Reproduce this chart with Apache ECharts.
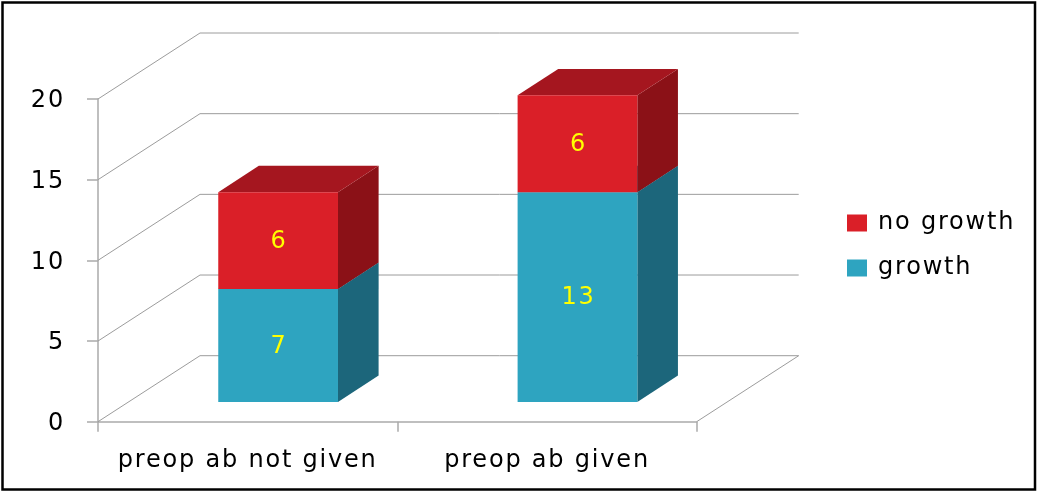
<!DOCTYPE html>
<html><head><meta charset="utf-8">
<style>html,body{margin:0;padding:0;background:#fff}#c{width:1038px;height:492px}</style>
<script src="https://cdn.jsdelivr.net/npm/echarts@6/dist/echarts.min.js"></script>
</head><body><div id="c"></div>
<script>
var categories = ['preop ab not given', 'preop ab given'];
var growth = [7, 13];
var noGrowth = [6, 6];
var yTicks = [0, 5, 10, 15, 20];

var FONT = '"DejaVu Sans", Verdana, sans-serif';
var DX = 102, DY = 66, NEAR = 0.3, FAR = 0.7;
var RED = {front:'#DA1F28', top:'#A5161F', side:'#8B1117'};
var BLUE = {front:'#2EA4C0', top:'#237F96', side:'#1C667B'};
var chart = echarts.init(document.getElementById('c'), null, {renderer:'canvas'});

function box(colors) {
  return function (params, api) {
    var cat = api.value(0), lo = api.value(1), hi = api.value(2);
    var band = api.size([1, 0])[0], w = band * 0.4;
    var cx = api.coord([cat, 0])[0];
    var nx = 101.5 * NEAR, ny = -DY * NEAR, fx = 101.5 * (FAR - NEAR), fy = -DY * (FAR - NEAR);
    var yLo = api.coord([cat, lo])[1] + ny, yHi = api.coord([cat, hi])[1] + ny;
    var x0 = cx - w / 2 + nx, x1 = x0 + w;
    return {type:'group', children:[
      {type:'polygon', shape:{points:[[x1,yLo],[x1+fx,yLo+fy],[x1+fx,yHi+fy],[x1,yHi]]}, style:{fill:colors.side}},
      {type:'polygon', shape:{points:[[x0,yHi],[x1,yHi],[x1+fx,yHi+fy],[x0+fx,yHi+fy]]}, style:{fill:colors.top}},
      {type:'rect', shape:{x:x0, y:yHi, width:w, height:yLo-yHi}, style:{fill:colors.front}},
      {type:'text', style:{x:(x0+x1)/2+1, y:(yLo+yHi)/2+1, text:String(hi-lo), fill:'#FFFF00',
        font:'24px '+FONT, align:'center', verticalAlign:'middle'}}
    ]};
  };
}
function walls(params, api) {
  var v = api.value(0);
  var p = api.coord([0, v]);
  var left = api.coord([0, 0])[0] - api.size([1, 0])[0] / 2;
  var right = left + api.size([1, 0])[0] * categories.length;
  var pts = [[left, p[1]], [left + DX, p[1] - DY], [right + DX, p[1] - DY]];
  if (v === 0) pts.push([right, p[1]]);
  return {type:'polyline', shape:{points:pts}, style:{fill:null, stroke:'#9c9c9c', lineWidth:1}};
}
var growthRows = categories.map(function (c, i) { return [i, 0, growth[i]]; });
var noGrowthRows = categories.map(function (c, i) { return [i, growth[i], growth[i] + noGrowth[i]]; });

var option = {
  animation:false,
  backgroundColor:'#fff',
  graphic:[{type:'rect', shape:{x:2.5, y:2.5, width:1032.5, height:487}, style:{fill:null, stroke:'#000', lineWidth:2.5}, z:100}],
  grid:{left:98, top:99, width:598.7, height:322.7},
  legend:{orient:'vertical', left:842, top:206, itemWidth:20, itemHeight:17, itemGap:21,
    data:[{name:'no growth', icon:'rect'}, {name:'growth', icon:'rect'}],
    textStyle:{fontFamily:FONT, fontSize:24, color:'#000', padding:[0,0,6,6]}},
  xAxis:{type:'category', data:categories,
    axisLine:{lineStyle:{color:'#aaa', width:1.5}},
    axisTick:{show:true, length:10, alignWithLabel:false, lineStyle:{color:'#aaa', width:1.5}},
    axisLabel:{fontFamily:FONT, fontSize:24, color:'#000', margin:27}, splitLine:{show:false}},
  yAxis:{type:'value', min:0, max:20, interval:5,
    axisLine:{show:true, lineStyle:{color:'#aaa', width:1.5}},
    axisTick:{show:true, length:11, lineStyle:{color:'#aaa', width:1.5}},
    axisLabel:{margin:33, formatter:'{a|{value}}',
      rich:{a:{fontFamily:FONT, fontSize:24, color:'#000', padding:[4,0,0,0]}}}, splitLine:{show:false}},
  series:[
    {type:'custom', name:'walls', coordinateSystem:'cartesian2d', data:yTicks.map(function(t){return [t];}),
      encode:{y:0}, renderItem:walls, silent:true, z:1},
    {type:'custom', name:'growth', coordinateSystem:'cartesian2d', data:growthRows, renderItem:box(BLUE),
      encode:{x:0, y:[1,2]}, itemStyle:{color:BLUE.front}, z:2},
    {type:'custom', name:'no growth', coordinateSystem:'cartesian2d', data:noGrowthRows, renderItem:box(RED),
      encode:{x:0, y:[1,2]}, itemStyle:{color:RED.front}, z:3}
  ]
};
chart.setOption(option);
document.querySelectorAll('#c canvas').forEach(function (cv) { cv.getContext('2d').letterSpacing = '1.8px'; });
chart.setOption(option, true);
</script></body></html>
